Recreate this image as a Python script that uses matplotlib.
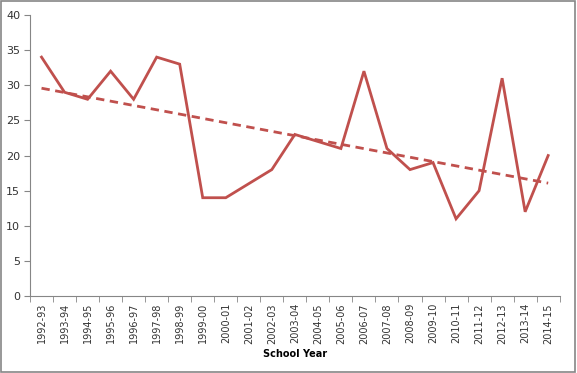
import matplotlib
matplotlib.use("Agg")
import matplotlib.pyplot as plt
import numpy as np
from matplotlib.patches import Rectangle

years = ["1992-93", "1993-94", "1994-95", "1995-96", "1996-97", "1997-98",
         "1998-99", "1999-00", "2000-01", "2001-02", "2002-03", "2003-04",
         "2004-05", "2005-06", "2006-07", "2007-08", "2008-09", "2009-10",
         "2010-11", "2011-12", "2012-13", "2013-14", "2014-15"]
values = [34, 29, 28, 32, 28, 34, 33, 14, 14, 16, 18, 23,
          22, 21, 32, 21, 18, 19, 11, 15, 31, 12, 20]

red = "#C0504D"
grey = "#868686"

fig = plt.figure(figsize=(5.77, 3.73), dpi=100)
ax = fig.add_axes([0.052, 0.206, 0.918, 0.754])

x = np.arange(len(years))
ax.plot(x, values, color=red, lw=2.0, solid_joinstyle="miter")

# linear trendline
k, b = np.polyfit(x, values, 1)
ax.plot(x, k * x + b, color=red, lw=2.0, ls=(0, (3, 2)))

ax.set_xlim(-0.5, len(years) - 0.5)
ax.set_ylim(0, 40)
ax.set_yticks(range(0, 41, 5))
ax.set_xticks(x)
ax.set_xticklabels(years, rotation=90, fontsize=7, color="#333333")
ax.set_xticks(np.arange(-0.5, len(years)), minor=True)
ax.tick_params(axis="x", which="major", length=0, pad=5)
ax.tick_params(axis="x", which="minor", length=4, color=grey, direction="out")
ax.tick_params(axis="y", length=4, color=grey, labelsize=8, labelcolor="#333333", pad=3)

for s in ["top", "right"]:
    ax.spines[s].set_visible(False)
for s in ["left", "bottom"]:
    ax.spines[s].set_color(grey)
    ax.spines[s].set_linewidth(0.8)

ax.set_xlabel("School Year", fontsize=7, fontweight="bold", labelpad=4)

fig.patches.append(Rectangle((0.002, 0.003), 0.995, 0.994, transform=fig.transFigure,
                             fill=False, edgecolor=grey, lw=1.2))

fig.savefig("out.png", dpi=100)
